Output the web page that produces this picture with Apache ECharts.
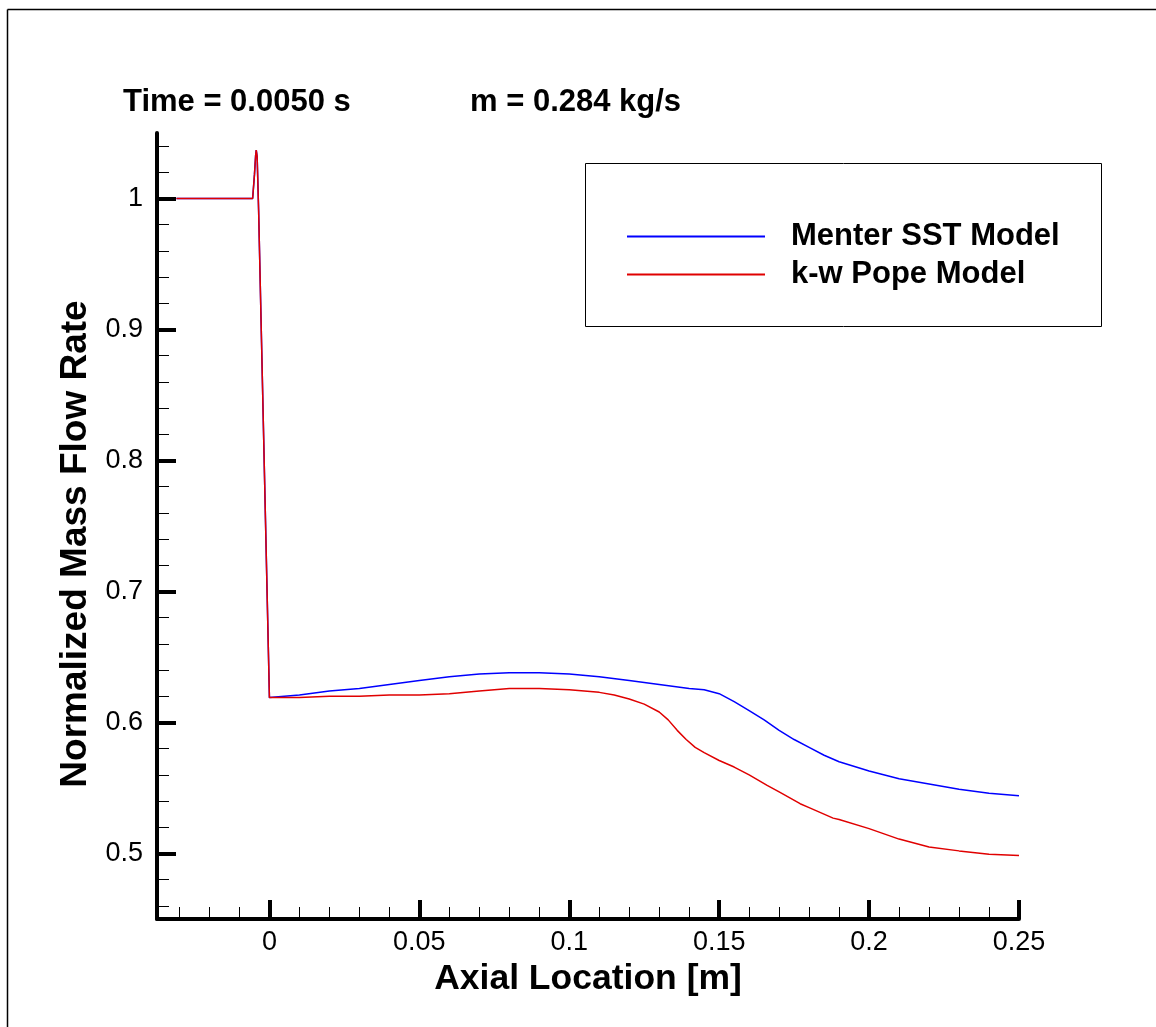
<!DOCTYPE html>
<html>
<head>
<meta charset="utf-8">
<script src="https://cdn.jsdelivr.net/npm/echarts@6/dist/echarts.min.js"></script>
<style>
  html, body { margin: 0; padding: 0; background: #fff; }
  #chart { width: 1156px; height: 1027px; }
</style>
</head>
<body>
<div id="chart"></div>
<script>
// Menter SST model: axial location [m] and normalized mass flow rate
const sstX = [-0.031, -0.0056, -0.005, -0.0046, -0.0044, -0.0041, -0.0036, 0,
  0.005, 0.01, 0.02, 0.03, 0.04, 0.05, 0.06, 0.07, 0.08, 0.09, 0.10, 0.11, 0.12,
  0.13, 0.14, 0.145, 0.15, 0.155, 0.16, 0.165, 0.17, 0.175, 0.18, 0.185, 0.19,
  0.20, 0.21, 0.22, 0.23, 0.24, 0.25];
const sstY = [1.0, 1.0, 1.018, 1.033, 1.037, 1.032, 0.99, 0.619,
  0.620, 0.621, 0.624, 0.626, 0.629, 0.632, 0.635, 0.637, 0.638, 0.638, 0.637, 0.635, 0.632,
  0.629, 0.626, 0.625, 0.622, 0.616, 0.609, 0.602, 0.594, 0.587, 0.581, 0.575, 0.570,
  0.563, 0.557, 0.553, 0.549, 0.546, 0.544];

// k-w Pope model
const popeX = [-0.031, -0.0056, -0.005, -0.0046, -0.0044, -0.0041, -0.0036, 0,
  0.01, 0.02, 0.03, 0.04, 0.05, 0.06, 0.07, 0.08, 0.09, 0.10, 0.11, 0.115, 0.12,
  0.125, 0.13, 0.133, 0.136, 0.139, 0.142, 0.145, 0.15, 0.155, 0.16, 0.166, 0.17, 0.177,
  0.18, 0.188, 0.19, 0.20, 0.21, 0.22, 0.23, 0.24, 0.25];
const popeY = [1.0, 1.0, 1.018, 1.033, 1.037, 1.032, 0.99, 0.619,
  0.619, 0.620, 0.620, 0.621, 0.621, 0.622, 0.624, 0.626, 0.626, 0.625, 0.623, 0.621, 0.618,
  0.614, 0.608, 0.602, 0.594, 0.587, 0.581, 0.577, 0.571, 0.566, 0.560, 0.552, 0.547, 0.538,
  0.535, 0.527, 0.526, 0.519, 0.511, 0.505, 0.502, 0.4995, 0.4985];

// Tick positions
const xMajorTicks = [0, 0.05, 0.1, 0.15, 0.2, 0.25];
const xMinorTicks = [-0.03, -0.02, -0.01, 0.01, 0.02, 0.03, 0.04, 0.06, 0.07, 0.08, 0.09,
  0.11, 0.12, 0.13, 0.14, 0.16, 0.17, 0.18, 0.19, 0.21, 0.22, 0.23, 0.24];
const yMajorTicks = [0.5, 0.6, 0.7, 0.8, 0.9, 1];
const yMinorTicks = [0.46, 0.48, 0.52, 0.54, 0.56, 0.58, 0.62, 0.64, 0.66, 0.68,
  0.72, 0.74, 0.76, 0.78, 0.82, 0.84, 0.86, 0.88, 0.92, 0.94, 0.96, 0.98, 1.02, 1.04];

const seriesNames = ['Menter SST Model', 'k-w Pope Model'];
const headerTexts = ['Time = 0.0050 s', 'm = 0.284 kg/s'];

const FONT = '"Liberation Sans", Arial, Helvetica, sans-serif';

function zip(xs, ys) { return xs.map((x, i) => [x, ys[i]]); }

const chart = echarts.init(document.getElementById('chart'), null, { renderer: 'canvas' });

const xRange = { min: -0.0375, max: 0.25 };
const yRange = { min: 0.45, max: 1.05 };

chart.setOption({
  backgroundColor: '#ffffff',
  animation: false,
  title: [
    { text: headerTexts[0], left: 118, top: 82,
      textStyle: { fontFamily: FONT, fontWeight: 'bold', fontSize: 31, color: '#000' } },
    { text: headerTexts[1], left: 465, top: 82,
      textStyle: { fontFamily: FONT, fontWeight: 'bold', fontSize: 31, color: '#000' } }
  ],
  grid: { left: 157, right: 137, top: 133, bottom: 108, containLabel: false },
  legend: {
    orient: 'vertical',
    left: 622,
    top: 216,
    itemWidth: 138,
    itemHeight: 2,
    itemGap: 7,
    icon: 'rect',
    data: seriesNames,
    textStyle: { fontFamily: FONT, fontWeight: 'bold', fontSize: 31, color: '#000',
      padding: [0, 0, 0, 21] }
  },
  xAxis: [
    {
      type: 'value', position: 'bottom', ...xRange,
      name: 'Axial Location [m]', nameLocation: 'middle', nameGap: 35,
      nameTextStyle: { fontFamily: FONT, fontWeight: 'bold', fontSize: 35.5, color: '#000' },
      axisLine: { show: true, onZero: false, lineStyle: { color: '#000', width: 4 } },
      axisTick: { show: true, inside: true, length: 19, customValues: xMajorTicks,
        lineStyle: { color: '#000', width: 4 } },
      axisLabel: { show: true, customValues: xMajorTicks, margin: 10,
        fontFamily: FONT, fontSize: 27, color: '#000', formatter: v => String(v) },
      splitLine: { show: false }
    },
    {
      type: 'value', position: 'bottom', ...xRange,
      axisLine: { show: false, onZero: false },
      axisTick: { show: true, inside: true, length: 12, customValues: xMinorTicks,
        lineStyle: { color: '#000', width: 1 } },
      axisLabel: { show: false },
      splitLine: { show: false }
    }
  ],
  yAxis: [
    {
      type: 'value', position: 'left', ...yRange,
      name: 'Normalized Mass Flow Rate', nameLocation: 'middle', nameGap: 62,
      nameTextStyle: { fontFamily: FONT, fontWeight: 'bold', fontSize: 37, color: '#000',
        padding: [0, 36, 0, 0] },
      axisLine: { show: true, onZero: false, lineStyle: { color: '#000', width: 4 } },
      axisTick: { show: true, inside: true, length: 19, customValues: yMajorTicks,
        lineStyle: { color: '#000', width: 4 } },
      axisLabel: { show: true, customValues: yMajorTicks, margin: 14,
        fontFamily: FONT, fontSize: 27, color: '#000', formatter: v => String(v) },
      splitLine: { show: false }
    },
    {
      type: 'value', position: 'left', ...yRange,
      axisLine: { show: false, onZero: false },
      axisTick: { show: true, inside: true, length: 12, customValues: yMinorTicks,
        lineStyle: { color: '#000', width: 1 } },
      axisLabel: { show: false },
      splitLine: { show: false }
    }
  ],
  graphic: [
    // page frame (top and left edges)
    { type: 'line', silent: true, shape: { x1: 7.5, y1: 9.5, x2: 1156, y2: 9.5 },
      style: { stroke: '#000', lineWidth: 1.5 } },
    { type: 'line', silent: true, shape: { x1: 7.5, y1: 9.5, x2: 7.5, y2: 1027 },
      style: { stroke: '#000', lineWidth: 1.5 } },
    // legend frame
    { type: 'rect', silent: true, z: 0, shape: { x: 585.5, y: 163.5, width: 516, height: 163 },
      style: { fill: 'none', stroke: '#000', lineWidth: 1 } }
  ],
  series: [
    {
      name: seriesNames[0], type: 'line', xAxisIndex: 0, yAxisIndex: 0,
      data: zip(sstX, sstY), showSymbol: false, symbol: 'none',
      lineStyle: { color: '#0000ff', width: 1.5 }, itemStyle: { color: '#0000ff' }, z: 2
    },
    {
      name: seriesNames[1], type: 'line', xAxisIndex: 0, yAxisIndex: 0,
      data: zip(popeX, popeY), showSymbol: false, symbol: 'none',
      lineStyle: { color: '#e00000', width: 1.5 }, itemStyle: { color: '#e00000' }, z: 3
    }
  ]
});
</script>
</body>
</html>
